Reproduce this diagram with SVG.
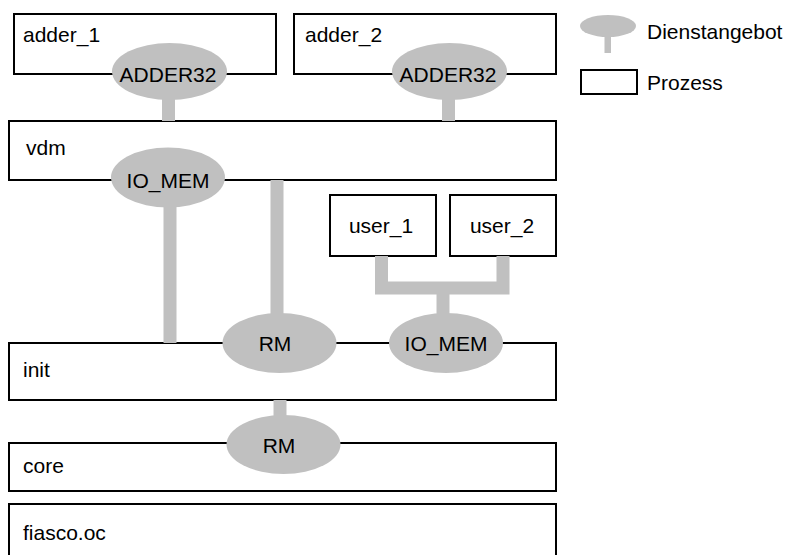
<svg xmlns="http://www.w3.org/2000/svg" width="790" height="555" viewBox="0 0 790 555">
  <style>
    .proc { fill: #ffffff; stroke: #000000; stroke-width: 2; }
    .svc { fill: #c0c0c0; stroke: none; }
    .link { fill: none; stroke: #c0c0c0; stroke-width: 13; stroke-linejoin: miter; }
    text { font-family: "Liberation Sans", Arial, sans-serif; font-size: 21px; fill: #000000; }
    .mid { text-anchor: middle; }
  </style>

  <rect width="790" height="555" fill="#ffffff"/>

  <!-- processes -->
  <g id="adder_1"><rect class="proc" x="14" y="14" width="262" height="60"/><text x="23" y="41.5">adder_1</text></g>
  <g id="adder_2"><rect class="proc" x="294" y="14" width="262" height="60"/><text x="305" y="41.5">adder_2</text></g>
  <g id="vdm"><rect class="proc" x="9" y="121" width="547" height="59"/><text x="26" y="155">vdm</text></g>
  <g id="user_1"><rect class="proc" x="330" y="195" width="106" height="61"/><text class="mid" x="381" y="233">user_1</text></g>
  <g id="user_2"><rect class="proc" x="450" y="195" width="106" height="61"/><text class="mid" x="502" y="233">user_2</text></g>
  <g id="init"><rect class="proc" x="9" y="343" width="547" height="57"/><text x="23" y="376.5">init</text></g>
  <g id="core"><rect class="proc" x="9" y="443" width="547" height="48"/><text x="23" y="473">core</text></g>
  <g id="fiasco_oc"><rect class="proc" x="9" y="504" width="547" height="60"/><text x="23" y="540">fiasco.oc</text></g>

  <!-- service links -->
  <g id="connectors">
    <path class="link" d="M168.5 95 V121"/>
    <path class="link" d="M448.5 95 V121"/>
    <path class="link" d="M170 200 V343"/>
    <path class="link" d="M277 180 V318"/>
    <path class="link" d="M381.5 256 V288 H503 V256"/>
    <path class="link" d="M443 288 V318"/>
    <path class="link" d="M280 400 V420"/>
  </g>

  <!-- services -->
  <g id="adder32_1"><ellipse class="svc" cx="169.5" cy="71.5" rx="57.5" ry="28.5"/><text class="mid" x="168" y="81.5">ADDER32</text></g>
  <g id="adder32_2"><ellipse class="svc" cx="449.5" cy="71.5" rx="57.5" ry="28.5"/><text class="mid" x="448" y="81.5">ADDER32</text></g>
  <g id="io_mem_vdm"><ellipse class="svc" cx="168" cy="177.5" rx="57" ry="30"/><text class="mid" x="168" y="187.5">IO_MEM</text></g>
  <g id="rm_init"><ellipse class="svc" cx="279.5" cy="343" rx="57" ry="30"/><text class="mid" x="275" y="351">RM</text></g>
  <g id="io_mem_init"><ellipse class="svc" cx="446" cy="343" rx="57" ry="30"/><text class="mid" x="446" y="351">IO_MEM</text></g>
  <g id="rm_core"><ellipse class="svc" cx="283.5" cy="444.5" rx="57" ry="29.5"/><text class="mid" x="279" y="452.5">RM</text></g>

  <!-- legend -->
  <g id="legend_service">
    <rect x="604.5" y="35" width="6.5" height="18" fill="#c0c0c0"/>
    <ellipse class="svc" cx="608" cy="26" rx="28" ry="11"/>
    <text x="647" y="38.5">Dienstangebot</text>
  </g>
  <g id="legend_process">
    <rect class="proc" x="581" y="70" width="56" height="24"/>
    <text x="647" y="90">Prozess</text>
  </g>
</svg>
